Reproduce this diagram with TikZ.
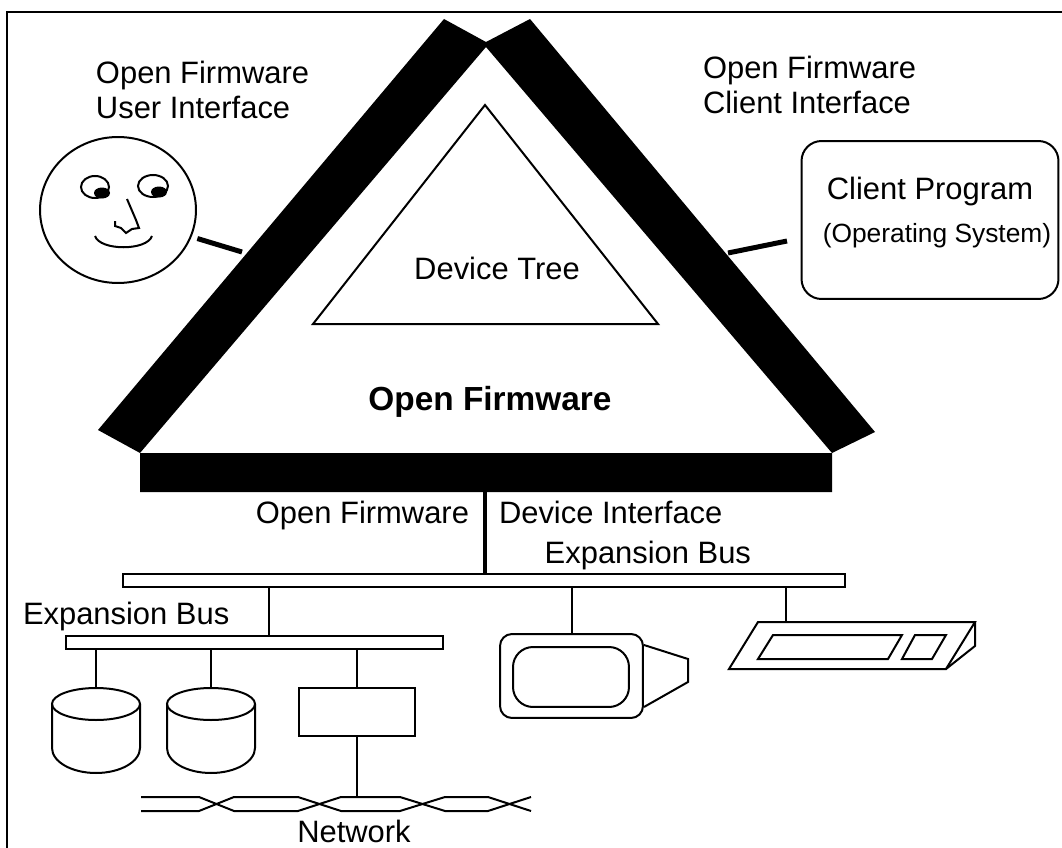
\documentclass[tikz,border=0pt]{standalone}
\usepackage{fontspec}
\setmainfont{Liberation Sans}
\usetikzlibrary{shapes.geometric}

\begin{document}
\begin{tikzpicture}[x=0.02cm, y=-0.02cm, line width=0.04cm,
    every node/.style={inner sep=0pt, font=\fontsize{17.6}{19.9}\selectfont},
    bus/.style={draw, rectangle, minimum height=0.26cm},
    link/.style={line width=0.1cm}]
  \useasboundingbox (0,0) rectangle (1062,848);
  \draw[line width=0.05cm] (7,848) -- (7,12) -- (1062,12);

  \fill[even odd rule] (444,19) -- (486,42) -- (530,19) -- (875,432) -- (832,453)
    -- (832,492) -- (140,492) -- (140,453) -- (98,430) -- cycle
    (486,47) -- (832,453) -- (140,453) -- cycle;
  \draw (485,105) -- (658,324) -- (313,324) -- cycle;
  \node[anchor=base] (tree) at (497,279) {Device Tree};
  \node[anchor=base, font=\fontsize{19}{22}\selectfont\bfseries] (of) at (490,410) {Open Firmware};

  \node[anchor=north west, align=left] (ui) at (95,60) {Open Firmware\\User Interface};
  \node[anchor=north west, align=left] (ci) at (702,55) {Open Firmware\\Client Interface};

  \node[draw, ellipse, minimum width=3.12cm, minimum height=2.92cm] (face) at (118,210) {};
  \draw (95,187) ellipse (14 and 11) (153,186) ellipse (15 and 11);
  \fill (102,193) ellipse (8 and 5.5) (159,192) ellipse (8 and 5.5);
  \draw (127,199) -- (136,220) -- (139,228) -- (132,229) -- (126,233) -- (121,228) -- (115,226) -- (115,221);
  \draw (95,236) .. controls (100,251) and (147,251) .. (152,236);

  \node[draw, rounded corners=0.4cm, minimum width=5.14cm, minimum height=3.16cm] (client) at (930,220) {};
  \node[anchor=base] (prog) at (930,199) {Client Program};
  \node[anchor=base, font=\fontsize{15}{18}\selectfont] (os) at (937,242) {(Operating System)};

  \coordinate (uiband) at (242,252);
  \coordinate (ciband) at (728,253);
  \coordinate (cifree) at (787,241);
  \draw[link, shorten <=0.12cm] (face.-20) -- (uiband);
  \draw[link] (cifree) -- (ciband);

  \coordinate (ofbar) at (485,492);
  \node[bus, minimum width=14.44cm] (sysbus) at (484,580.5) {};
  \node[bus, minimum width=7.54cm] (subbus) at (254.5,642.5) {};
  \draw[line width=0.08cm] (ofbar) -- (ofbar |- sysbus.north);
  \node[anchor=base east] (ofdi) at (470,523) {Open Firmware};
  \node[anchor=base west] (di) at (498,523) {Device Interface};
  \node[anchor=base east] (eb) at (752,563) {Expansion Bus};
  \node[anchor=base west] (sub) at (22,624) {Expansion Bus};

  \node[draw, rounded corners=0.24cm, minimum width=2.86cm, minimum height=1.68cm] (monitor) at (571.5,676) {};
  \node[draw, rounded corners=0.4cm, minimum width=2.32cm, minimum height=1.2cm] (screen) at (571,677) {};
  \draw (monitor.east |- 0,645) -- (688,659) -- (688,682) -- (monitor.east |- 0,707);

  \coordinate (kbd) at (786,622);
  \draw (758,622) -- (975,622) -- (946,669) -- (729,669) -- cycle;
  \draw (975,622) -- (975,646) -- (946,669);
  \draw (773,635) -- (902,635) -- (888,659) -- (758,659) -- cycle;
  \draw (915,635) -- (946,635) -- (932,659) -- (902,659) -- cycle;

  \draw (269,0 |- sysbus.south) -- (269,0 |- subbus.north);
  \draw (572,0 |- sysbus.south) -- (572,0 |- monitor.north);
  \draw (kbd |- sysbus.south) -- (kbd);

  \foreach \x in {96,211} {
    \draw (\x-44,704) -- (\x-44,748) arc[start angle=180, end angle=0, x radius=44, y radius=25] -- (\x+44,704);
    \draw (\x,704) ellipse (44 and 16);
    \draw (\x,0 |- subbus.south) -- (\x,688);
  }

  \node[draw, minimum width=2.32cm, minimum height=0.96cm] (netif) at (357,712) {};
  \draw (netif.north |- subbus.south) -- (netif.north);
  \draw (netif.south) -- (netif.south |- 0,797);
  \draw (141,797) -- (199,797) -- (234,811) -- (298,811) -- (341,797) -- (400,797) -- (445,811) -- (488,811) -- (531,797);
  \draw (141,811) -- (199,811) -- (234,797) -- (298,797) -- (341,811) -- (400,811) -- (445,797) -- (488,797) -- (531,811);
  \node[anchor=base] (net) at (354,842) {Network};
\end{tikzpicture}
\end{document}
